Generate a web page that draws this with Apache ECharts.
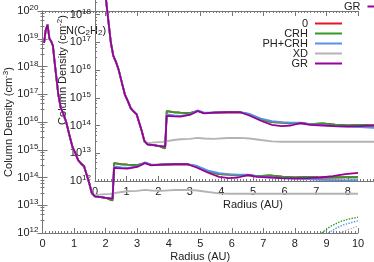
<!DOCTYPE html>
<html><head><meta charset="utf-8">
<script src="https://cdn.jsdelivr.net/npm/echarts@6/dist/echarts.min.js"></script>
<style>html,body{margin:0;padding:0;background:#fff}#c{width:374px;height:262px}</style>
</head><body><div id="c"></div>
<script>
// ---- data (radius in AU, column densities) ----
const radius = [0.05,0.1,0.16,0.22,0.28,0.33,0.38,0.44,0.5,0.58,0.66,0.75,0.85,0.95,1.05,1.13,1.22,1.32,1.4,1.48,
  1.56,1.66,1.8,2.0,2.15,2.22,2.27,2.5,2.7,3.0,3.25,3.45,3.75,4.2,4.6,4.9,5.25,5.6,5.9,6.2,
  6.5,6.8,7.2,7.6,8.0,8.4,8.8,9.2,9.6,10];
const valsGR = [7.1e18,2.0e19,3.2e19,1.0e19,7.9e18,5.6e18,1.6e18,4.0e17,1.0e17,3.2e16,2.0e16,1.0e16,3.5e15,1.26e15,7.1e14,4.2e14,3.2e14,2.5e14,1.26e14,6.3e13,
  2.8e13,2.1e13,2.0e13,1.86e13,1.78e13,1.74e13,2.24e14,2.14e14,2.09e14,2.4e14,3.3e14,2.75e14,2.9e14,3.0e14,3.0e14,2.24e14,1.48e14,1.05e14,9.5e13,1.0e14,
  1.23e14,1.05e14,1.0e14,9.5e13,9.3e13,9.5e13,1.0e14,1.12e14,1.32e14,1.48e14];
const valsCRH = [7.1e18,2.0e19,3.2e19,1.0e19,7.9e18,5.6e18,1.6e18,4.0e17,1.0e17,3.2e16,2.0e16,1.0e16,3.5e15,1.26e15,7.1e14,4.2e14,3.2e14,2.5e14,1.26e14,6.3e13,
  2.8e13,2.1e13,2.0e13,1.86e13,1.58e13,1.48e13,3.3e14,3.0e14,2.9e14,2.8e14,3.4e14,2.8e14,2.9e14,3.0e14,3.0e14,2.5e14,1.66e14,1.32e14,1.26e14,1.2e14,
  1.23e14,1.12e14,1.2e14,1.07e14,1.0e14,1.05e14,1.0e14,1.0e14,1.02e14,1.02e14];
const valsZero = valsCRH.slice();
const valsPH = [7.1e18,2.0e19,3.2e19,1.0e19,7.9e18,5.6e18,1.6e18,4.0e17,1.0e17,3.2e16,2.0e16,1.0e16,3.5e15,1.26e15,7.1e14,4.2e14,3.2e14,2.5e14,1.26e14,6.3e13,
  2.8e13,2.1e13,2.0e13,1.86e13,1.78e13,1.74e13,2.5e14,2.3e14,2.24e14,2.5e14,3.5e14,2.9e14,2.95e14,3.05e14,3.05e14,2.6e14,1.78e14,1.45e14,1.32e14,1.26e14,
  1.26e14,1.1e14,1.05e14,9.3e13,8.9e13,8.7e13,8.3e13,8.1e13,7.9e13,8.1e13];
const valsXD = [7.1e18,2.0e19,3.2e19,1.0e19,7.9e18,5.6e18,1.6e18,4.0e17,1.0e17,3.2e16,2.0e16,1.0e16,3.5e15,1.26e15,7.1e14,4.2e14,3.2e14,2.5e14,1.26e14,6.3e13,
  2.5e13,2.35e13,2.4e13,2.5e13,2.57e13,2.7e13,2.9e13,3.0e13,3.2e13,3.3e13,3.6e13,3.4e13,3.3e13,3.55e13,3.6e13,3.4e13,3.0e13,2.7e13,2.6e13,2.6e13,
  2.6e13,2.6e13,2.6e13,2.6e13,2.6e13,2.6e13,2.6e13,2.6e13,2.6e13,2.6e13];
// dotted outer-disk curves
const dotCRHx = [8.85,9.1,9.43,9.7,10];   const dotCRHv = [1.0e12,1.66e12,2.57e12,3.16e12,3.7e12];
const dotPHx  = [9.06,9.3,9.53,9.8,10];   const dotPHv  = [1.0e12,1.48e12,1.95e12,2.4e12,2.75e12];
const dotXDx  = [9.43,9.7,10];            const dotXDv  = [1.0e12,1.32e12,1.78e12];
const legendNames = ['0','CRH','PH+CRH','XD','GR'];
const colors = {'0':'#e8141c','CRH':'#2e9a2a','PH+CRH':'#5b8fe6','XD':'#b4b4b4','GR':'#990099'};

const pair = (xs, vs) => xs.map((x,i)=>[x, vs[i]]);
const mainSets = [['0',valsZero],['CRH',valsCRH],['PH+CRH',valsPH],['XD',valsXD],['GR',valsGR]];
const dotSets = [['CRH',dotCRHx,dotCRHv],['PH+CRH',dotPHx,dotPHv],['XD',dotXDx,dotXDv]];

const axisCol = '#777';
const txtCol = '#222';
const supRich = {b:{fontSize:11,color:txtCol,fontFamily:'Liberation Sans'}, sup:{fontSize:8,color:txtCol,verticalAlign:'top',padding:[0,0,6,0],fontFamily:'Liberation Sans'}};
const logFmt = v => '{b|10}{sup|' + Math.round(Math.log10(v)) + '}';

function xAx(gi, pos, showLabel, name, gap){
  return {type:'value', gridIndex:gi, position:pos, min:0, max:10, interval:1,
    axisLine:{show:true, lineStyle:{color:axisCol,width:1}},
    axisTick:{show:true, inside:true, length:5, lineStyle:{color:axisCol}},
    minorTick:{show:true, splitNumber:10, length:2, lineStyle:{color:axisCol}},
    splitLine:{show:false},
    axisLabel:{show:showLabel, color:txtCol, fontSize:11, margin:5, fontFamily:'Liberation Sans'},
    name:name||'', nameLocation:'middle', nameGap:gap||18, nameMoveOverlap:false,
    nameTextStyle:{color:txtCol, fontSize:11, fontFamily:'Liberation Sans'}};
}
function yAx(gi, pos, showLabel, name, unit, gap){
  return {type:'log', logBase:10, gridIndex:gi, position:pos, min:1e12, max:1e20,
    axisLine:{show:true, lineStyle:{color:axisCol,width:1}},
    axisTick:{show:true, inside:true, length:5, lineStyle:{color:axisCol}},
    minorTick:{show:true, splitNumber:5, length:2, lineStyle:{color:axisCol}},
    splitLine:{show:false},
    axisLabel:{show:showLabel, formatter:logFmt, rich:supRich, margin:4},
    name:name?('{b|'+name+'}{sup|'+unit+'}{b|)}'):'', nameLocation:'middle', nameGap:gap||28, nameRotate:90, nameMoveOverlap:false,
    nameTextStyle:{rich:supRich}};
}

const series = [];
[0,1].forEach(gi=>{
  mainSets.forEach(([n,v])=>series.push({name:n, type:'line', xAxisIndex:gi, yAxisIndex:gi, data:pair(radius,v),
    showSymbol:false, symbol:'none', color:colors[n], lineStyle:{width:1.8, color:colors[n]}, z: 2}));
  dotSets.forEach(([n,xs,vs])=>series.push({name:n+' ', type:'line', xAxisIndex:gi, yAxisIndex:gi, data:pair(xs,vs),
    showSymbol:false, symbol:'none', color:colors[n], lineStyle:{width:1.4, type:'dotted', color:colors[n]}, z:2}));
});

const legendBase = {orient:'vertical', align:'right', icon:'rect', itemWidth:27, itemHeight:2, itemGap:-1,
  data:legendNames, selectedMode:false,
  textStyle:{fontSize:11, color:txtCol, lineHeight:10, fontFamily:'Liberation Sans', padding:[0,2,0,0]}};

const option = {
  animation:false,
  backgroundColor:'#fff',
  grid:[
    {left:42.5, top:11, width:315.5, height:222, show:false, outerBoundsMode:'none', containLabel:false},
    {left:95, top:-41, width:316, height:222, show:false, outerBoundsMode:'none', containLabel:false}
  ],
  xAxis:[ xAx(0,'bottom',true,'Radius (AU)',18), xAx(1,'bottom',true,'Radius (AU)',18), xAx(0,'top',false) ],
  yAxis:[ yAx(0,'left',true,'Column Density (cm','-3',27), yAx(1,'left',true,'Column Density (cm','-2',25), yAx(0,'right',false) ],
  legend:[
    Object.assign({}, legendBase, {right:27, top:13}),
    Object.assign({}, legendBase, {right:-25.5, top:-44})
  ],
  graphic:[{type:'text', left:66, top:25, style:{text:'{b|N(C}{s|2}{b|H}{s|2}{b|)}', rich:{
    b:{fontSize:11,fill:txtCol,fontFamily:'Liberation Sans'}, s:{fontSize:8,fill:txtCol,verticalAlign:'bottom',padding:[4,0,0,0],fontFamily:'Liberation Sans'}}}}],
  series:series
};
const chart = echarts.init(document.getElementById('c'), null, {renderer:'canvas'});
chart.setOption(option);
</script></body></html>
